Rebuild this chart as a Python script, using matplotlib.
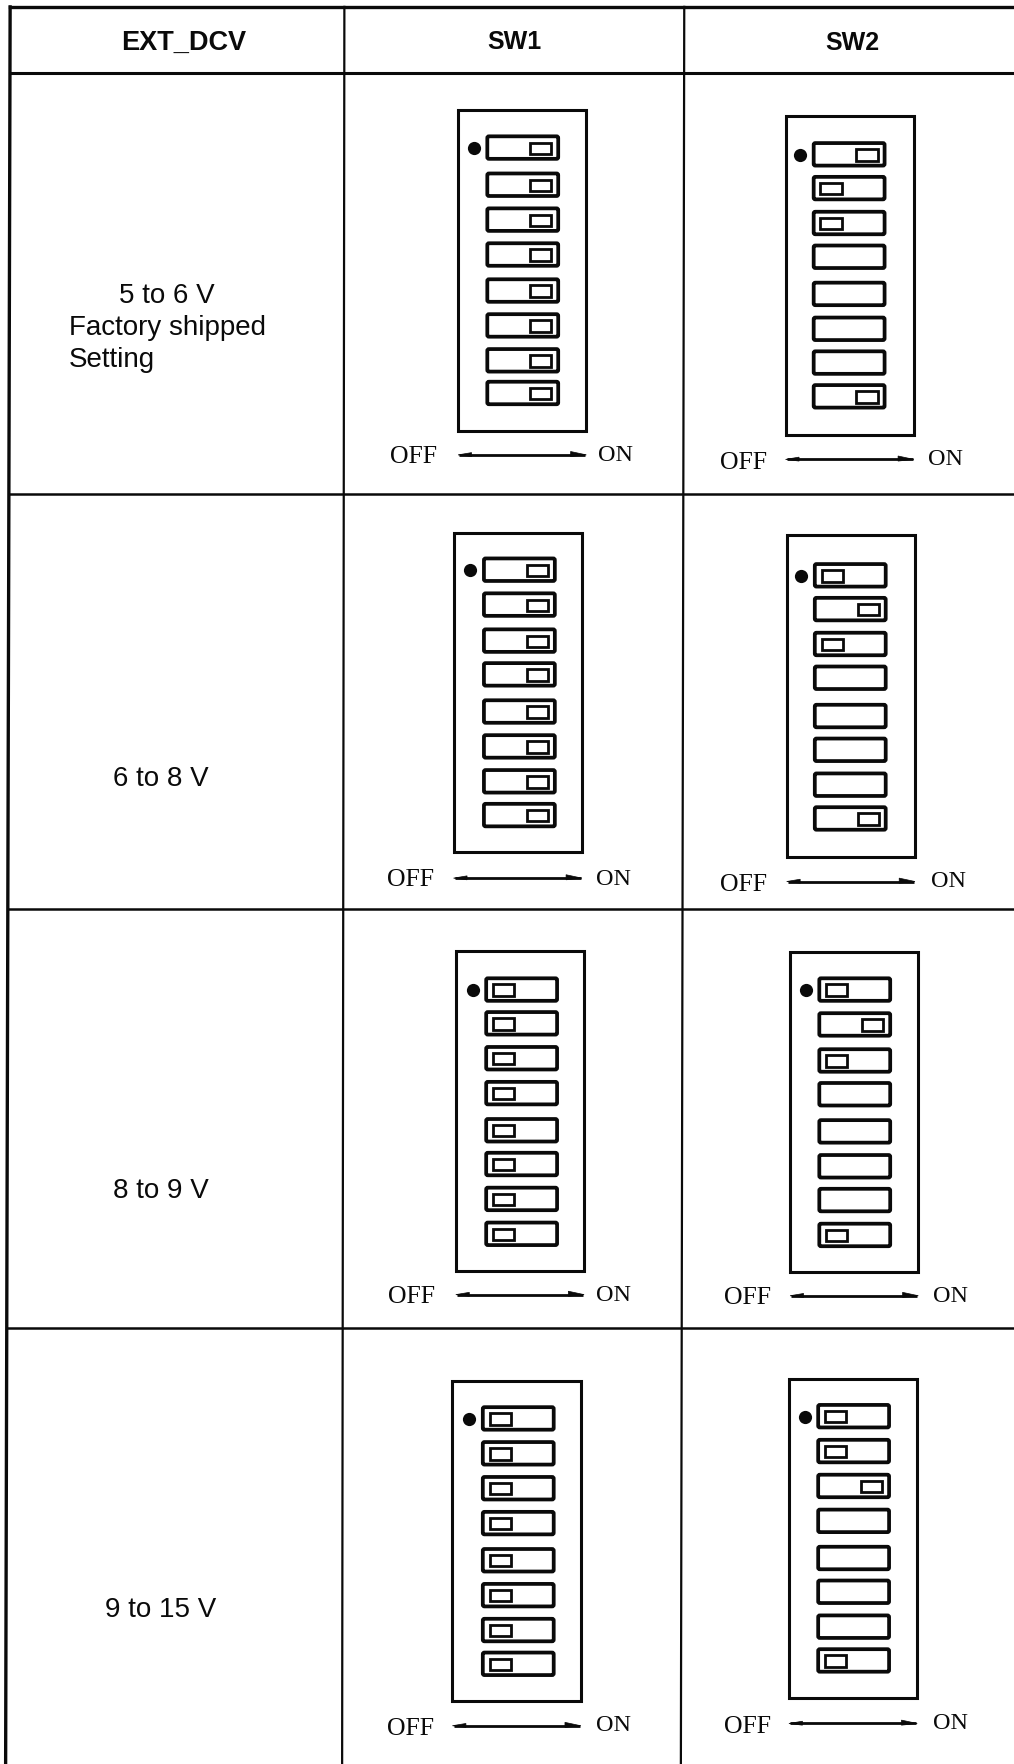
"""
DIP switch settings table for EXT_DCV ranges
"""

import matplotlib
matplotlib.use("Agg")
import matplotlib.pyplot as plt
from matplotlib.patches import FancyBboxPatch, Rectangle, Polygon

headers = ["EXT_DCV", "SW1", "SW2"]
voltages = ["5 to 6 V", "6 to 8 V", "8 to 9 V", "9 to 15 V"]

# switch state per row: 1 = slider at ON side, 0 = slider at OFF side, None = no slider
sw1_states = [
    [1, 1, 1, 1, 1, 1, 1, 1],
    [1, 1, 1, 1, 1, 1, 1, 1],
    [0, 0, 0, 0, 0, 0, 0, 0],
    [0, 0, 0, 0, 0, 0, 0, 0],
]
sw2_states = [
    [1, 0, 0, None, None, None, None, 1],
    [0, 1, 0, None, None, None, None, 1],
    [0, 1, 0, None, None, None, None, 0],
    [0, 0, 1, None, None, None, None, 0],
]

# layout, measured in the 901 wide view: box left/top/bottom, switch left, arrow y
box_left = [[407, 698], [403, 699], [405, 702], [402, 701]]
box_top = [[99, 104], [474, 476], [846, 847], [1228, 1226]]
box_bottom = [[384, 387], [758, 762], [1130, 1131], [1512, 1509]]
switch_left = [[433, 723], [430, 724], [432, 728], [429, 727]]
switch_tops = [
    [[122, 155, 186, 217, 249, 280, 311, 340], [128, 158, 189, 219, 252, 283, 313, 343]],
    [[497, 528, 560, 590, 623, 654, 685, 715], [502, 532, 563, 593, 627, 657, 688, 718]],
    [[870, 900, 931, 962, 995, 1025, 1056, 1087], [870, 901, 933, 963, 996, 1027, 1057, 1088]],
    [[1251, 1282, 1313, 1344, 1377, 1408, 1439, 1469], [1249, 1280, 1311, 1342, 1375, 1405, 1436, 1466]],
]
off_pos = [[(367, 405), (661, 410)], [(365, 781), (661, 785)], [(366, 1151), (664, 1152)], [(365, 1535), (664, 1533)]]
on_pos = [[(547, 405), (840, 408)], [(545, 781), (843, 783)], [(545, 1151), (845, 1152)], [(545, 1533), (845, 1531)]]
volt_pos = [(143, 692), (143, 1058), (143, 1430)]

fig = plt.figure(figsize=(10.14, 17.65), dpi=100)
ax = fig.add_axes([0, 0, 1, 1])
ax.set_xlim(0, 901)
ax.set_ylim(1568, 0)
ax.axis("off")

SANS = "Liberation Sans"
SERIF = "Liberation Serif"
INK = "#0a0a0a"


def drawSwitch(x, y, state):
    ax.add_patch(FancyBboxPatch((x, y), 63, 20, boxstyle="round,pad=0,rounding_size=1.5",
                                fc="white", ec=INK, lw=2.7))
    if state is None:
        return
    sx = x + 38 if state == 1 else x + 6
    ax.add_patch(Rectangle((sx, y + 5.5), 19, 10, fc="white", ec=INK, lw=2.0))


def drawDiagram(r, c, states):
    left = box_left[r][c]
    top = box_top[r][c]
    ax.add_patch(Rectangle((left, top), 114, box_bottom[r][c] - top, fc="white", ec=INK, lw=2.2))
    for i in range(8):
        drawSwitch(switch_left[r][c], switch_tops[r][c][i], states[i])
    ax.plot([switch_left[r][c] - 12], [switch_tops[r][c][0] + 10.5], "o", color=INK, ms=9.5, mew=0)

    # OFF ---> ON legend under the box
    ox, oy = off_pos[r][c]
    nx, ny = on_pos[r][c]
    ax.text(ox, oy + 1, "OFF", family=SERIF, fontsize=18.5, color=INK, ha="center", va="center")
    ax.text(nx, ny, "ON", family=SERIF, fontsize=17.5, color=INK, ha="center", va="center")
    ay = (oy + ny) / 2
    ax.plot([left + 1, left + 113], [ay, ay], color=INK, lw=2.0, solid_capstyle="butt")
    ax.add_patch(Polygon([(left + 114, ay), (left + 100, ay + 1.5), (left + 100, ay - 3)], fc=INK, ec=INK, lw=0.5))
    ax.add_patch(Polygon([(left, ay), (left + 12, ay + 1.5), (left + 12, ay - 2)], fc=INK, ec=INK, lw=0.5))


# table rules
ax.plot([9, 901], [7, 7], color=INK, lw=2.4)
ax.plot([9, 901], [66, 66], color=INK, lw=2.2)
ax.plot([8, 901], [440, 440], color=INK, lw=1.8)
ax.plot([7, 901], [808, 808], color=INK, lw=1.8)
ax.plot([6, 901], [1181, 1181], color=INK, lw=1.8)
ax.plot([9, 5], [7, 1568], color=INK, lw=2.4)
ax.plot([306, 304], [7, 1568], color=INK, lw=1.6)
ax.plot([608, 605], [7, 1568], color=INK, lw=1.6)

# header row
ax.text(163, 38, headers[0], family=SANS, fontweight="bold", fontsize=19.5, color=INK, ha="center", va="center")
ax.text(457, 37, headers[1], family=SANS, fontweight="bold", fontsize=18, color=INK, ha="center", va="center")
ax.text(757, 38, headers[2], family=SANS, fontweight="bold", fontsize=18, color=INK, ha="center", va="center")

# voltage column
ax.text(148, 263, voltages[0], family=SANS, fontsize=20, color=INK, ha="center", va="center")
ax.text(61, 291, "Factory shipped", family=SANS, fontsize=20, color=INK, ha="left", va="center")
ax.text(61, 320, "Setting", family=SANS, fontsize=20, color=INK, ha="left", va="center")
for i in range(3):
    ax.text(volt_pos[i][0], volt_pos[i][1], voltages[i + 1], family=SANS, fontsize=20, color=INK,
            ha="center", va="center")

for r in range(4):
    drawDiagram(r, 0, sw1_states[r])
    drawDiagram(r, 1, sw2_states[r])

fig.savefig("out.png", dpi=100, facecolor="white")
